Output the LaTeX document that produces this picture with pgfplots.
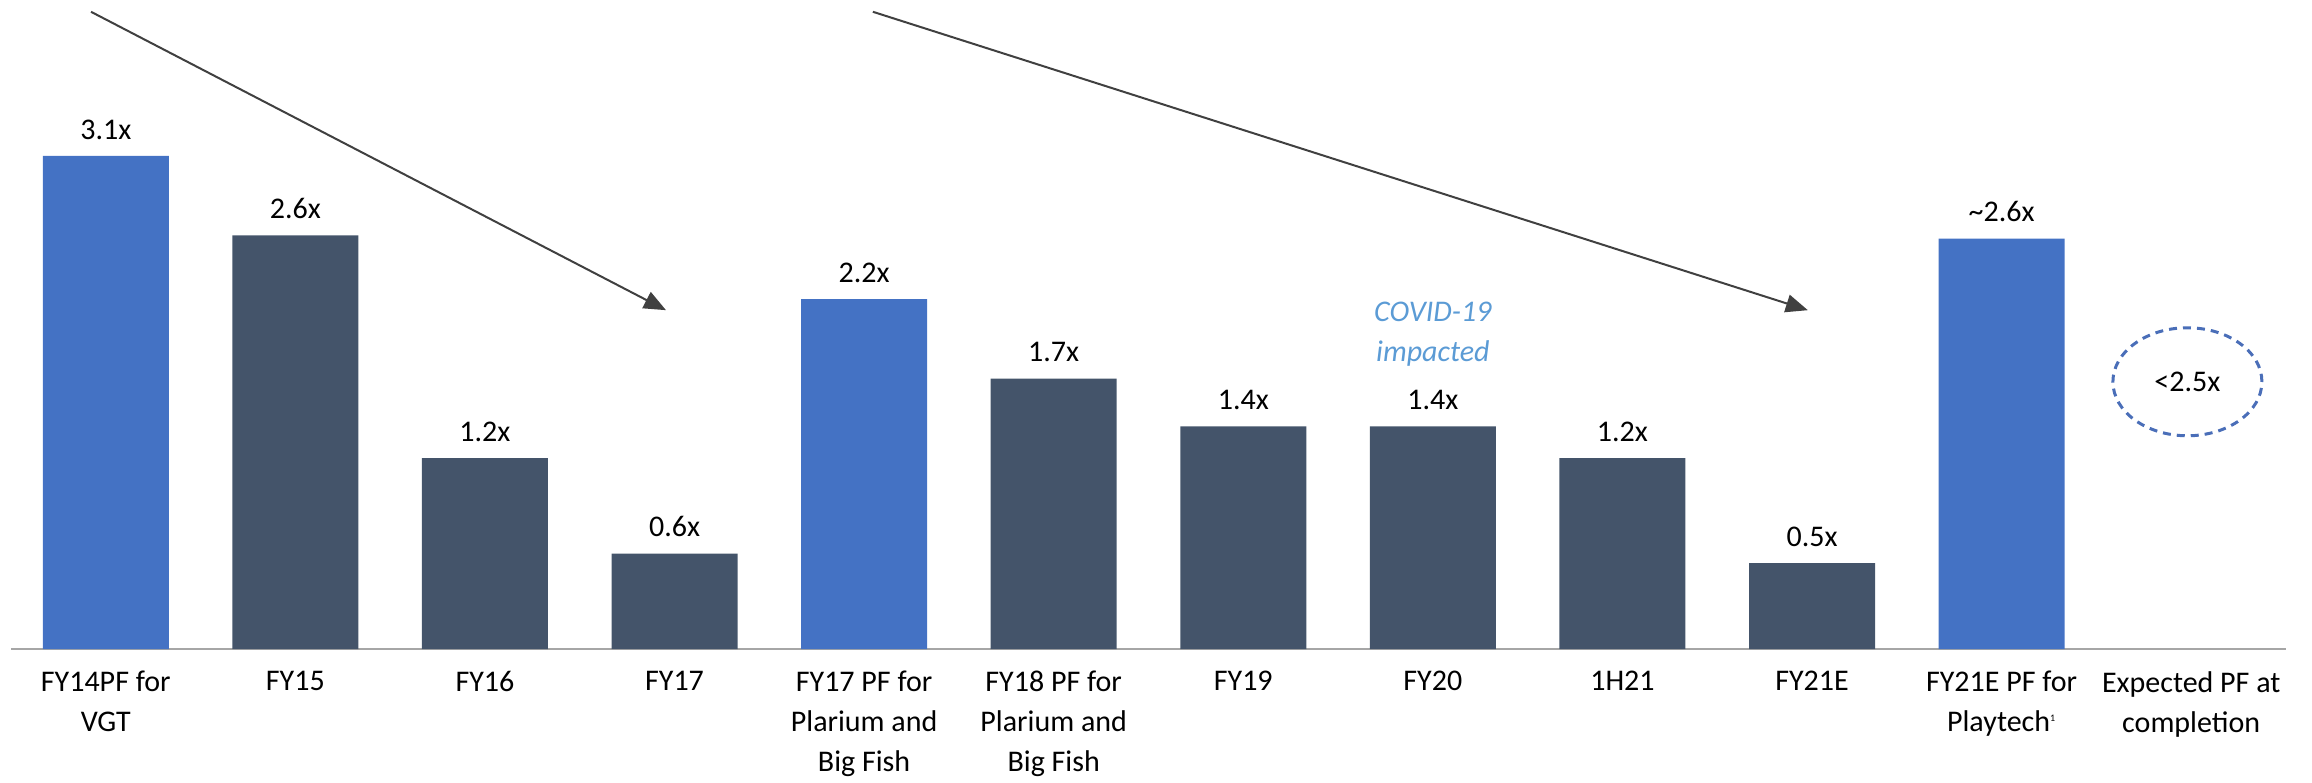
\documentclass[border=0pt]{standalone}
\usepackage{pgfplots}
\pgfplotsset{compat=1.18}
\usepackage{fontspec}
\setmainfont{Carlito}
\usetikzlibrary{arrows.meta,shapes.geometric}
\definecolor{barblue}{HTML}{4472C4}
\definecolor{bardark}{HTML}{44546A}
\definecolor{covid}{HTML}{5B9BD5}
\definecolor{arrowc}{HTML}{404040}
\definecolor{axisgray}{HTML}{A6A6A6}
\definecolor{ellc}{HTML}{4A6EB8}
\begin{document}
\fontsize{15}{20}\selectfont
\begin{tikzpicture}
\begin{axis}[
  scale only axis, width=1137.5pt, height=324.5pt,
  xmin=-0.5, xmax=11.5, ymin=0, ymax=4.08,
  axis x line=bottom, axis y line=none,
  x axis line style={-, draw=axisgray, line width=1.3pt},
  xtick={0,...,11}, major tick length=0pt,
  xticklabels={{FY14PF for\\VGT},{FY15},{FY16},{FY17},{FY17 PF for\\Plarium and\\Big Fish},{FY18 PF for\\Plarium and\\Big Fish},{FY19},{FY20},{1H21},{FY21E},{FY21E PF for\\Playtech\textsuperscript{\tiny 1}},{Expected PF at\\completion}},
  xticklabel style={align=center, anchor=north, yshift=-6pt, font=\fontsize{15}{20}\selectfont},
  ybar, bar width=63pt, bar shift=0pt,
  point meta=explicit symbolic,
  nodes near coords, every node near coord/.append style={font=\fontsize{15}{20}\selectfont, anchor=south, yshift=3pt, black},
  clip=false,
]
\addplot[fill=barblue, draw=none] coordinates {(0,3.1) [3.1x] (4,2.2) [2.2x] (10,2.58) [\textasciitilde2.6x]};
\addplot[fill=bardark, draw=none] coordinates {(1,2.6) [2.6x] (2,1.2) [1.2x] (3,0.6) [0.6x] (5,1.7) [1.7x] (6,1.4) [1.4x] (7,1.4) [1.4x] (8,1.2) [1.2x] (9,0.54) [0.5x]};
\draw[arrowc, line width=1pt, -{Triangle[length=11pt,width=9pt]}] (axis cs:-0.078,4.006) -- (axis cs:2.955,2.13);
\draw[arrowc, line width=1pt, -{Triangle[length=11pt,width=9pt]}] (axis cs:4.046,4.006) -- (axis cs:8.978,2.13);
\node[ellipse, draw=ellc, dash pattern=on 4pt off 3pt, line width=1.5pt, minimum width=74.5pt, minimum height=54pt, inner sep=0pt] at (axis cs:10.98,1.68) {<2.5x};
\node[covid, font=\fontsize{15}{20}\selectfont\itshape, align=center] at (axis cs:7,1.98) {COVID-19\\impacted};
\end{axis}
\pgfresetboundingbox
\path (-5.5pt,-66.5pt) rectangle (1150.5pt,324.5pt);
\end{tikzpicture}
\end{document}
